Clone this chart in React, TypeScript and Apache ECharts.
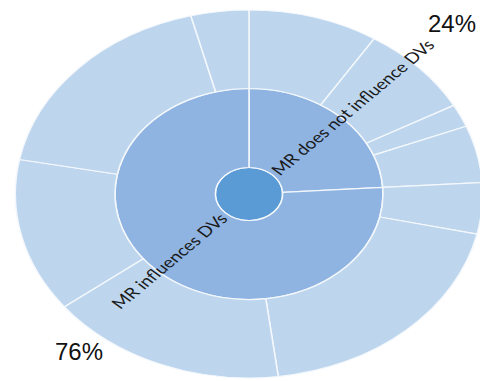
import React, { useEffect, useRef } from "react";
import * as echarts from "echarts";

const groupNames = ["MR does not influence DVs", "MR influences DVs"];
const groupShares = ["24%", "76%"];
const notInfluenceValues = [9, 8, 2, 5];
const influenceValues = [4.5, 19.5, 16.5, 13.5, 18, 4];

const STRETCH = 1.27;

export default function App() {
  const ref = useRef<HTMLDivElement>(null);
  useEffect(() => {
    if (!ref.current) return;
    const chart = echarts.init(ref.current, undefined, { renderer: "svg" });
    const leaf = (v: number) => ({ name: "", value: v });
    const data = [
      {
        name: "",
        children: [
          { name: groupNames[0], children: notInfluenceValues.map(leaf) },
          { name: groupNames[1], children: influenceValues.map(leaf) },
        ],
      },
    ];
    chart.setOption({
      animation: false,
      series: [
        {
          type: "sunburst",
          center: [249, 194],
          sort: null,
          nodeClick: false,
          startAngle: 90,
          clockwise: true,
          data,
          itemStyle: { borderColor: "#f4f8fc", borderWidth: 1.2 },
          emphasis: { disabled: true },
          levels: [
            {},
            {
              r0: 0,
              r: 26.5,
              itemStyle: { color: "#5b9bd5" },
              label: { show: false },
            },
            {
              r0: 26.5,
              r: 105.5,
              itemStyle: { color: "#8fb4e2" },
              label: {
                show: true,
                rotate: "radial",
                align: "left",
                distance: 3,
                color: "#1a1a1a",
                fontFamily: "Lato",
                fontSize: 15,
              },
            },
            {
              r0: 105.5,
              r: 184,
              itemStyle: { color: "#bdd6ee" },
              label: { show: false },
            },
          ],
        },
      ],
      graphic: [
        {
          type: "text",
          x: 249 + (428 - 249) / STRETCH,
          y: 23.5,
          scaleX: 1 / STRETCH,
          style: {
            text: groupShares[0],
            fontSize: 24,
            fontFamily: "Liberation Sans",
            fill: "#111",
            verticalAlign: "middle",
          },
        },
        {
          type: "text",
          x: 249 + (55 - 249) / STRETCH,
          y: 351.5,
          scaleX: 1 / STRETCH,
          style: {
            text: groupShares[1],
            fontSize: 24,
            fontFamily: "Liberation Sans",
            fill: "#111",
            verticalAlign: "middle",
          },
        },
      ],
    });
    return () => chart.dispose();
  }, []);
  return (
    <div
      style={{
        position: "fixed",
        left: 0,
        top: 0,
        width: 480,
        height: 381,
        overflow: "hidden",
        background: "#fff",
      }}
    >
      <div
        ref={ref}
        style={{
          width: 480,
          height: 381,
          transform: `scaleX(${STRETCH})`,
          transformOrigin: "249px 0px",
        }}
      />
    </div>
  );
}
